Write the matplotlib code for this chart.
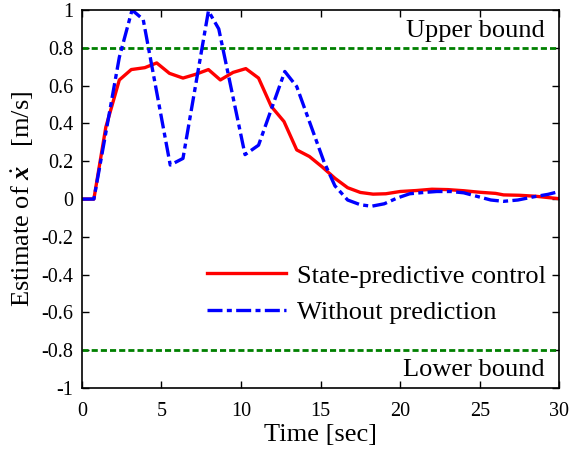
import numpy as np
import matplotlib
matplotlib.use('Agg')
import matplotlib.pyplot as plt
from matplotlib.ticker import FuncFormatter

plt.rcParams['font.family'] = 'Liberation Serif'
plt.rcParams['mathtext.fontset'] = 'custom'
plt.rcParams['mathtext.rm'] = 'Liberation Serif'
plt.rcParams['mathtext.bf'] = 'Liberation Serif:bold:italic'
plt.rcParams['axes.unicode_minus'] = False

# State-predictive control
t_pred = [0, 0.75, 1.5, 2.35, 3.1, 3.95, 4.7, 5.5, 6.35, 7.15, 7.95, 8.7, 9.5,
          10.3, 11.1, 11.9, 12.7, 13.5, 14.3, 15.1, 15.9, 16.7, 17.5, 18.3,
          19.1, 20.0, 21.0, 22.0, 23.0, 24.0, 25.0, 26.0, 26.5, 27.5, 28.5,
          29.3, 30.0]
y_pred = [0, 0, 0.38, 0.63, 0.685, 0.695, 0.72, 0.665, 0.64, 0.66, 0.685, 0.63,
          0.67, 0.69, 0.64, 0.49, 0.41, 0.26, 0.225, 0.17, 0.11, 0.06, 0.035,
          0.026, 0.028, 0.04, 0.045, 0.052, 0.05, 0.044, 0.036, 0.03, 0.022,
          0.02, 0.015, 0.008, 0.002]

# Without prediction
t_nopred = [0, 0.75, 1.5, 2.35, 3.15, 3.85, 5.55, 6.35, 7.95, 8.6, 10.25, 11.1,
            12.75, 13.5, 15.2, 15.9, 16.7, 17.5, 18.2, 19.0, 19.8, 20.6, 21.5,
            22.3, 23.2, 24.0, 24.8, 25.7, 26.5, 27.4, 28.4, 29.3, 30.0]
y_nopred = [0, 0, 0.35, 0.75, 1.0, 0.95, 0.18, 0.215, 0.995, 0.9, 0.235, 0.285,
            0.675, 0.595, 0.2, 0.07, -0.005, -0.03, -0.038, -0.025, 0.005, 0.028,
            0.035, 0.04, 0.04, 0.033, 0.015, -0.005, -0.012, -0.005, 0.012,
            0.025, 0.04]

upper, lower = 0.8, -0.8

fig = plt.figure(figsize=(5.73, 4.55), dpi=100)
ax = fig.add_axes([0.143, 0.147, 0.833, 0.831])

green = (0, 0.5, 0)
ax.axhline(upper, color=green, lw=2, ls=(0, (2.2, 1.1)))
ax.axhline(lower, color=green, lw=2, ls=(0, (2.2, 1.1)))
ax.plot(t_pred, y_pred, color='red', lw=2.4, label='State-predictive control')
ax.plot(t_nopred, y_nopred, color='blue', lw=2.4, ls=(0, (4.5, 1.3, 1.5, 1.3)),
        label='Without prediction')

ax.text(29.1, 0.89, 'Upper bound', ha='right', va='center', fontsize=19)
ax.text(29.1, -0.905, 'Lower bound', ha='right', va='center', fontsize=19)

ax.set_xlim(0, 30)
ax.set_ylim(-1, 1)
ax.set_xticks(np.arange(0, 31, 5))
ax.set_yticks(np.linspace(-1, 1, 11))
ax.yaxis.set_major_formatter(FuncFormatter(lambda v, p: '%g' % round(v, 2)))
ax.tick_params(direction='in', top=True, right=True, labelsize=14.5, length=5,
               width=1, pad=6)
ax.tick_params(axis='x', pad=10)
for s in ax.spines.values():
    s.set_linewidth(1.2)

ax.set_xlabel('Time [sec]', fontsize=19, labelpad=2)
ax.set_ylabel(r'Estimate of $\dot{\mathbf{x}}$   [m/s]', fontsize=19, labelpad=4)

ax.legend(loc='upper left', bbox_to_anchor=(0.24, 0.356), frameon=False,
          fontsize=19, handlelength=3.0, handletextpad=0.42, labelspacing=0.5,
          borderaxespad=0)

fig.savefig('out.png', dpi=100)
